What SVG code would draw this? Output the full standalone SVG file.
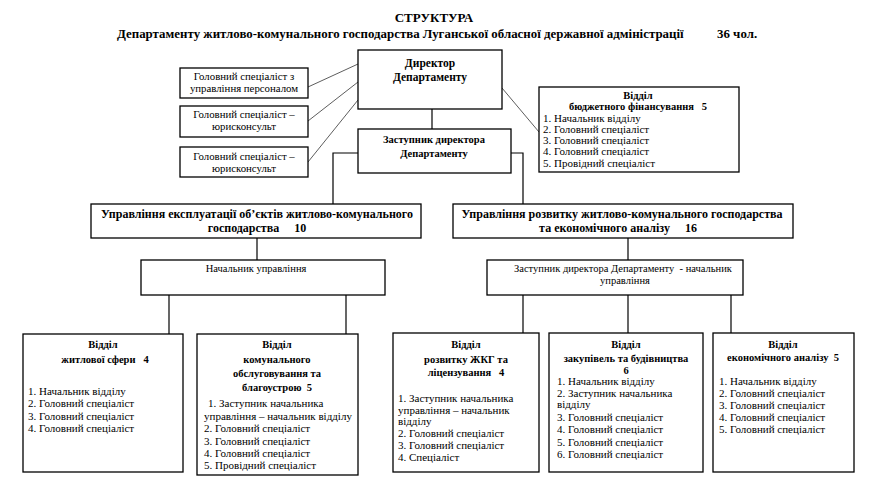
<svg xmlns="http://www.w3.org/2000/svg" width="879" height="488" viewBox="0 0 879 488">
<style>
text{font-family:"Liberation Serif","Times New Roman",serif;fill:#000}
.b{font-weight:bold}
.c{text-anchor:middle}
.box{fill:#fff;stroke:#000;stroke-width:1.3}
.ln{stroke:#000;stroke-width:1.2;fill:none}
.dg{stroke:#333;stroke-width:0.8;fill:none}
.t13{font-size:13px}
.t12{font-size:12.9px}
.h12{font-size:12px}
.hd{font-size:11.5px}
.h10{font-size:10.5px}
.s{font-size:10.5px}
.sm{font-size:10.8px}
.l{font-size:11px}
</style>
<rect width="879" height="488" fill="#fff"/>
<g id="title">
<text class="b c t13" x="434" y="22">СТРУКТУРА</text>
<text class="b t12" x="117" y="38">Департаменту житлово-комунального господарства Луганської обласної державної адміністрації</text>
<text class="b t12" x="717" y="38">36 чол.</text>
</g>
<g id="connectors">
<line class="dg" x1="308" y1="87" x2="358" y2="64"/>
<line class="dg" x1="308" y1="121" x2="358" y2="82"/>
<line class="dg" x1="308" y1="162" x2="358" y2="100"/>
<line class="dg" x1="502" y1="88" x2="539" y2="132"/>
<line class="ln" x1="432" y1="109" x2="432" y2="129"/>
<polyline class="ln" points="358,153 333,153 333,204"/>
<polyline class="ln" points="511,153 523,153 523,204"/>
<line class="ln" x1="257" y1="238" x2="257" y2="260"/>
<line class="ln" x1="628" y1="238" x2="628" y2="260"/>
<line class="ln" x1="169" y1="295" x2="169" y2="334"/>
<line class="ln" x1="346" y1="295" x2="346" y2="334"/>
<line class="ln" x1="523" y1="295" x2="523" y2="333"/>
<line class="ln" x1="628" y1="295" x2="628" y2="333"/>
<line class="ln" x1="731" y1="295" x2="731" y2="333"/>
</g>
<g id="director">
<rect class="box" x="358" y="50" width="144" height="59"/>
<text class="b c hd" x="430" y="67">Директор</text>
<text class="b c hd" x="430" y="81">Департаменту</text>
</g>
<g id="deputy">
<rect class="box" x="358" y="129" width="153" height="44"/>
<text class="b c h10" x="434" y="143">Заступник директора</text>
<text class="b c h10" x="434" y="157">Департаменту</text>
</g>
<g id="hr">
<rect class="box" x="180" y="68" width="128" height="30"/>
<text class="c sm" x="244" y="80">Головний спеціаліст з</text>
<text class="c sm" x="244" y="92">управління персоналом</text>
</g>
<g id="lawyer1">
<rect class="box" x="180" y="106" width="128" height="31"/>
<text class="c sm" x="244" y="118">Головний спеціаліст –</text>
<text class="c sm" x="244" y="130">юрисконсульт</text>
</g>
<g id="lawyer2">
<rect class="box" x="180" y="147" width="128" height="30"/>
<text class="c sm" x="244" y="160">Головний спеціаліст –</text>
<text class="c sm" x="244" y="172">юрисконсульт</text>
</g>
<g id="budget">
<rect class="box" x="539" y="87" width="200" height="85"/>
<text class="b c h10" x="638" y="99">Відділ</text>
<text class="b c h10" x="638" y="110" xml:space="preserve">бюджетного фінансування   5</text>
<text class="l" x="543" y="122">1. Начальник відділу</text>
<text class="l" x="543" y="133">2. Головний спеціаліст</text>
<text class="l" x="543" y="144">3. Головний спеціаліст</text>
<text class="l" x="543" y="155">4. Головний спеціаліст</text>
<text class="l" x="543" y="167">5. Провідний спеціаліст</text>
</g>
<g id="upr-expl">
<rect class="box" x="91" y="204" width="330" height="34"/>
<text class="b c h12" x="257" y="218">Управління експлуатації об’єктів житлово-комунального</text>
<text class="b c h12" x="257" y="232" xml:space="preserve">господарства     10</text>
</g>
<g id="upr-rozv">
<rect class="box" x="453" y="204" width="340" height="34"/>
<text class="b c h12" x="622" y="218">Управління розвитку житлово-комунального господарства</text>
<text class="b c h12" x="618" y="232" xml:space="preserve">та економічного аналізу     16</text>
</g>
<g id="nach-upr">
<rect class="box" x="141" y="260" width="244" height="35"/>
<text class="c s" x="256" y="272">Начальник управління</text>
</g>
<g id="zast-nach">
<rect class="box" x="487" y="260" width="256" height="35"/>
<text class="c s" x="623" y="272" xml:space="preserve">Заступник директора Департаменту  - начальник</text>
<text class="c s" x="625" y="284">управління</text>
</g>
<g id="vid-zhytl">
<rect class="box" x="23" y="334" width="160" height="138"/>
<text class="b c h10" x="103" y="348">Відділ</text>
<text class="b c h10" x="105" y="363" xml:space="preserve">житлової сфери   4</text>
<text class="l" x="28" y="395">1. Начальник відділу</text>
<text class="l" x="28" y="407">2. Головний спеціаліст</text>
<text class="l" x="28" y="420">3. Головний спеціаліст</text>
<text class="l" x="28" y="432">4. Головний спеціаліст</text>
</g>
<g id="vid-komun">
<rect class="box" x="197" y="334" width="161" height="141"/>
<text class="b c h10" x="277" y="348">Відділ</text>
<text class="b c h10" x="277" y="363">комунального</text>
<text class="b c h10" x="277" y="377">обслуговування та</text>
<text class="b c h10" x="277" y="391" xml:space="preserve">благоустрою  5</text>
<text class="l" x="208" y="407">1. Заступник начальника</text>
<text class="l" x="204" y="420">управління – начальник відділу</text>
<text class="l" x="204" y="432">2. Головний спеціаліст</text>
<text class="l" x="204" y="445">3. Головний спеціаліст</text>
<text class="l" x="204" y="457">4. Головний спеціаліст</text>
<text class="l" x="204" y="469">5. Провідний спеціаліст</text>
</g>
<g id="vid-zhkg">
<rect class="box" x="393" y="333" width="146" height="139"/>
<text class="b c h10" x="466" y="348">Відділ</text>
<text class="b c h10" x="466" y="363">розвитку ЖКГ та</text>
<text class="b c h10" x="466" y="376" xml:space="preserve">ліцензування   4</text>
<text class="l" x="398" y="402">1. Заступник начальника</text>
<text class="l" x="398" y="414">управління – начальник</text>
<text class="l" x="398" y="425">відділу</text>
<text class="l" x="398" y="437">2. Головний спеціаліст</text>
<text class="l" x="398" y="449">3. Головний спеціаліст</text>
<text class="l" x="398" y="461">4. Спеціаліст</text>
</g>
<g id="vid-zakup">
<rect class="box" x="549" y="333" width="154" height="139"/>
<text class="b c h10" x="626" y="348">Відділ</text>
<text class="b c h10" x="626" y="362">закупівель та будівництва</text>
<text class="b c h10" x="626" y="374">6</text>
<text class="l" x="557" y="385">1. Начальник відділу</text>
<text class="l" x="557" y="397">2. Заступник начальника</text>
<text class="l" x="557" y="408">відділу</text>
<text class="l" x="557" y="421">3. Головний спеціаліст</text>
<text class="l" x="557" y="433">4. Головний спеціаліст</text>
<text class="l" x="557" y="446">5. Головний спеціаліст</text>
<text class="l" x="557" y="458">6. Головний спеціаліст</text>
</g>
<g id="vid-ekon">
<rect class="box" x="713" y="333" width="141" height="139"/>
<text class="b c h10" x="783" y="348">Відділ</text>
<text class="b c h10" x="783" y="361" xml:space="preserve">економічного аналізу  5</text>
<text class="l" x="719" y="385">1. Начальник відділу</text>
<text class="l" x="719" y="397">2. Головний спеціаліст</text>
<text class="l" x="719" y="409">3. Головний спеціаліст</text>
<text class="l" x="719" y="421">4. Головний спеціаліст</text>
<text class="l" x="719" y="433">5. Головний спеціаліст</text>
</g>
</svg>
